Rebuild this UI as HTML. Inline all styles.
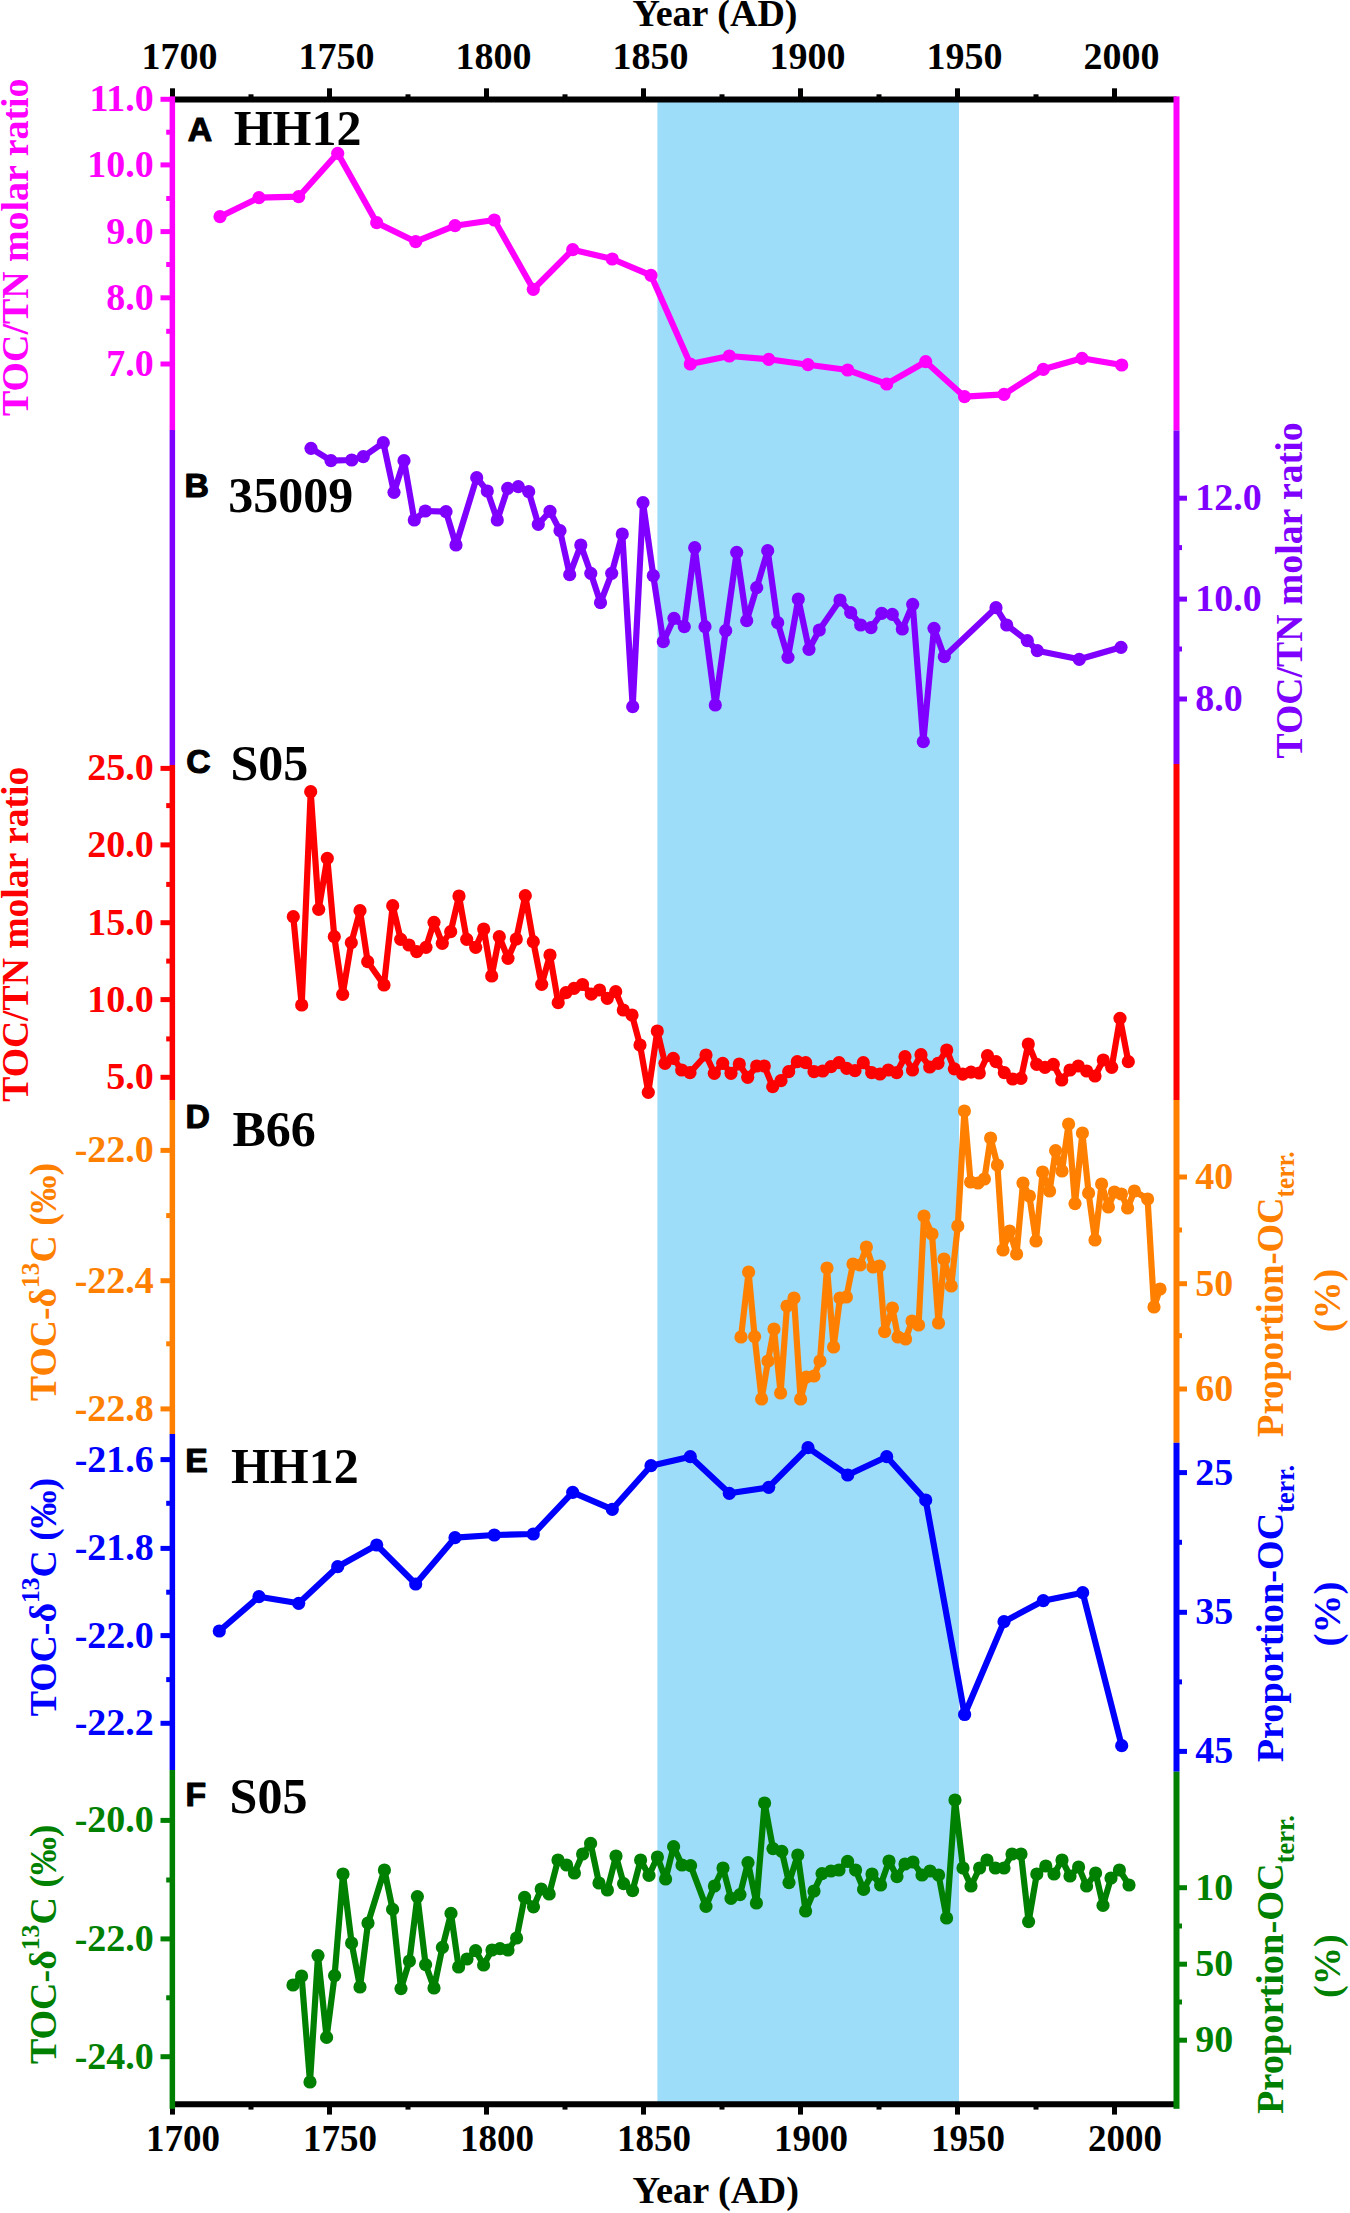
<!DOCTYPE html>
<html lang="en"><head><meta charset="utf-8"><title>Figure</title>
<style>
html,body{margin:0;padding:0;background:#fff}
body{width:1350px;height:2213px;overflow:hidden}
svg{display:block}
text{font-family:"Liberation Serif","Times New Roman",serif;font-weight:bold}
.tk text{font-size:38px}
.ti{font-size:38.5px}
.sup{font-size:26px}
.sub{font-size:26.5px}
.pl{font-family:"Liberation Sans",Arial,sans-serif;font-weight:bold;font-size:33.8px;stroke:#000;stroke-width:1.1px;stroke-linejoin:round}
.sl{font-size:50px}
</style></head><body>
<svg width="1350" height="2213" viewBox="0 0 1350 2213">
<rect width="1350" height="2213" fill="#fff"/>
<rect x="657.4" y="99.4" width="301.6" height="2004.8" fill="#9EDDFA"/>
<polyline fill="none" stroke="#FF00FF" stroke-width="6.2" stroke-linejoin="round" stroke-linecap="round" points="220.0,216.7 259.0,197.7 298.7,196.7 337.7,153.3 376.7,222.7 415.7,241.7 455.0,225.7 494.3,220.0 533.3,289.3 572.7,249.7 612.3,259.0 651.0,275.3 690.3,364.0 729.3,356.0 768.7,359.3 808.0,364.7 847.7,370.0 886.7,384.0 925.7,361.7 964.5,396.7 1004.0,394.3 1043.3,369.3 1082.0,358.3 1121.7,365.0"/>
<g fill="#FF00FF"><circle cx="220.0" cy="216.7" r="6.6"/><circle cx="259.0" cy="197.7" r="6.6"/><circle cx="298.7" cy="196.7" r="6.6"/><circle cx="337.7" cy="153.3" r="6.6"/><circle cx="376.7" cy="222.7" r="6.6"/><circle cx="415.7" cy="241.7" r="6.6"/><circle cx="455.0" cy="225.7" r="6.6"/><circle cx="494.3" cy="220.0" r="6.6"/><circle cx="533.3" cy="289.3" r="6.6"/><circle cx="572.7" cy="249.7" r="6.6"/><circle cx="612.3" cy="259.0" r="6.6"/><circle cx="651.0" cy="275.3" r="6.6"/><circle cx="690.3" cy="364.0" r="6.6"/><circle cx="729.3" cy="356.0" r="6.6"/><circle cx="768.7" cy="359.3" r="6.6"/><circle cx="808.0" cy="364.7" r="6.6"/><circle cx="847.7" cy="370.0" r="6.6"/><circle cx="886.7" cy="384.0" r="6.6"/><circle cx="925.7" cy="361.7" r="6.6"/><circle cx="964.5" cy="396.7" r="6.6"/><circle cx="1004.0" cy="394.3" r="6.6"/><circle cx="1043.3" cy="369.3" r="6.6"/><circle cx="1082.0" cy="358.3" r="6.6"/><circle cx="1121.7" cy="365.0" r="6.6"/></g>
<polyline fill="none" stroke="#8000FF" stroke-width="6.2" stroke-linejoin="round" stroke-linecap="round" points="311.0,448.3 331.0,460.7 351.7,460.0 363.3,456.7 383.3,442.7 394.0,492.3 404.0,460.7 414.3,520.0 425.3,511.0 446.0,511.7 456.0,545.0 476.7,477.7 487.3,491.0 497.3,520.0 507.7,488.3 518.3,486.7 528.7,491.7 538.3,524.3 550.0,511.3 560.0,530.7 569.7,574.7 580.8,545.0 590.8,573.3 600.5,602.7 611.7,573.3 622.3,534.0 632.7,706.7 643.0,502.7 653.3,575.7 663.3,641.7 674.0,618.3 684.3,626.7 694.7,547.7 705.0,626.7 715.3,705.0 725.7,630.7 736.7,552.3 746.7,620.7 756.7,587.7 767.7,550.7 777.7,622.7 788.0,657.3 798.3,599.0 809.0,649.3 819.3,630.0 840.0,600.0 850.7,612.7 860.7,625.0 871.0,627.7 881.7,613.3 892.3,614.3 902.3,629.0 912.7,604.3 923.3,741.7 934.0,628.3 944.3,656.7 996.0,607.7 1006.7,625.0 1027.3,640.7 1037.3,650.7 1079.3,659.3 1121.0,647.3"/>
<g fill="#8000FF"><circle cx="311.0" cy="448.3" r="6.6"/><circle cx="331.0" cy="460.7" r="6.6"/><circle cx="351.7" cy="460.0" r="6.6"/><circle cx="363.3" cy="456.7" r="6.6"/><circle cx="383.3" cy="442.7" r="6.6"/><circle cx="394.0" cy="492.3" r="6.6"/><circle cx="404.0" cy="460.7" r="6.6"/><circle cx="414.3" cy="520.0" r="6.6"/><circle cx="425.3" cy="511.0" r="6.6"/><circle cx="446.0" cy="511.7" r="6.6"/><circle cx="456.0" cy="545.0" r="6.6"/><circle cx="476.7" cy="477.7" r="6.6"/><circle cx="487.3" cy="491.0" r="6.6"/><circle cx="497.3" cy="520.0" r="6.6"/><circle cx="507.7" cy="488.3" r="6.6"/><circle cx="518.3" cy="486.7" r="6.6"/><circle cx="528.7" cy="491.7" r="6.6"/><circle cx="538.3" cy="524.3" r="6.6"/><circle cx="550.0" cy="511.3" r="6.6"/><circle cx="560.0" cy="530.7" r="6.6"/><circle cx="569.7" cy="574.7" r="6.6"/><circle cx="580.8" cy="545.0" r="6.6"/><circle cx="590.8" cy="573.3" r="6.6"/><circle cx="600.5" cy="602.7" r="6.6"/><circle cx="611.7" cy="573.3" r="6.6"/><circle cx="622.3" cy="534.0" r="6.6"/><circle cx="632.7" cy="706.7" r="6.6"/><circle cx="643.0" cy="502.7" r="6.6"/><circle cx="653.3" cy="575.7" r="6.6"/><circle cx="663.3" cy="641.7" r="6.6"/><circle cx="674.0" cy="618.3" r="6.6"/><circle cx="684.3" cy="626.7" r="6.6"/><circle cx="694.7" cy="547.7" r="6.6"/><circle cx="705.0" cy="626.7" r="6.6"/><circle cx="715.3" cy="705.0" r="6.6"/><circle cx="725.7" cy="630.7" r="6.6"/><circle cx="736.7" cy="552.3" r="6.6"/><circle cx="746.7" cy="620.7" r="6.6"/><circle cx="756.7" cy="587.7" r="6.6"/><circle cx="767.7" cy="550.7" r="6.6"/><circle cx="777.7" cy="622.7" r="6.6"/><circle cx="788.0" cy="657.3" r="6.6"/><circle cx="798.3" cy="599.0" r="6.6"/><circle cx="809.0" cy="649.3" r="6.6"/><circle cx="819.3" cy="630.0" r="6.6"/><circle cx="840.0" cy="600.0" r="6.6"/><circle cx="850.7" cy="612.7" r="6.6"/><circle cx="860.7" cy="625.0" r="6.6"/><circle cx="871.0" cy="627.7" r="6.6"/><circle cx="881.7" cy="613.3" r="6.6"/><circle cx="892.3" cy="614.3" r="6.6"/><circle cx="902.3" cy="629.0" r="6.6"/><circle cx="912.7" cy="604.3" r="6.6"/><circle cx="923.3" cy="741.7" r="6.6"/><circle cx="934.0" cy="628.3" r="6.6"/><circle cx="944.3" cy="656.7" r="6.6"/><circle cx="996.0" cy="607.7" r="6.6"/><circle cx="1006.7" cy="625.0" r="6.6"/><circle cx="1027.3" cy="640.7" r="6.6"/><circle cx="1037.3" cy="650.7" r="6.6"/><circle cx="1079.3" cy="659.3" r="6.6"/><circle cx="1121.0" cy="647.3" r="6.6"/></g>
<polyline fill="none" stroke="#FF0000" stroke-width="6.2" stroke-linejoin="round" stroke-linecap="round" points="293.3,916.7 301.7,1005.0 310.7,791.7 318.7,909.3 327.3,858.3 334.3,936.7 342.7,994.3 351.3,942.7 360.0,910.7 367.7,961.7 384.0,985.0 392.7,905.7 400.7,939.3 409.0,945.0 416.7,951.7 426.0,947.3 434.0,922.3 442.3,943.3 450.7,931.7 459.0,896.0 466.7,939.3 475.7,947.3 483.7,929.0 491.7,976.0 499.3,936.7 508.0,958.3 516.3,939.0 525.3,895.7 533.3,941.7 541.7,984.3 550.0,955.0 558.2,1002.7 566.0,992.7 574.0,988.3 582.5,984.5 591.3,994.2 599.6,990.0 607.3,998.3 615.7,991.7 623.3,1010.0 632.0,1015.0 640.0,1045.0 648.3,1092.3 657.3,1031.0 665.0,1063.3 673.3,1058.3 681.7,1070.0 690.0,1072.7 706.0,1055.0 714.3,1073.3 722.7,1063.3 731.0,1073.3 739.3,1064.0 747.7,1077.3 756.7,1066.0 764.3,1066.0 772.7,1086.7 781.0,1080.7 788.7,1071.7 797.3,1061.7 805.7,1062.7 814.0,1071.7 822.7,1071.0 831.0,1066.7 839.0,1062.7 846.7,1068.3 855.0,1070.7 863.3,1062.7 871.7,1072.7 880.0,1074.0 888.3,1070.0 896.7,1072.7 905.0,1056.7 912.5,1070.0 921.0,1054.7 929.7,1067.0 938.0,1063.3 946.7,1050.0 954.3,1068.8 962.7,1074.2 971.0,1072.2 979.3,1073.0 987.5,1055.7 996.0,1061.7 1004.3,1072.7 1012.7,1079.0 1021.0,1078.3 1028.3,1044.0 1036.7,1064.3 1045.0,1067.3 1053.3,1064.3 1061.7,1080.0 1070.0,1070.0 1078.3,1066.0 1086.7,1071.0 1095.0,1076.0 1103.3,1060.0 1111.7,1067.3 1120.0,1018.3 1128.3,1061.7"/>
<g fill="#FF0000"><circle cx="293.3" cy="916.7" r="6.6"/><circle cx="301.7" cy="1005.0" r="6.6"/><circle cx="310.7" cy="791.7" r="6.6"/><circle cx="318.7" cy="909.3" r="6.6"/><circle cx="327.3" cy="858.3" r="6.6"/><circle cx="334.3" cy="936.7" r="6.6"/><circle cx="342.7" cy="994.3" r="6.6"/><circle cx="351.3" cy="942.7" r="6.6"/><circle cx="360.0" cy="910.7" r="6.6"/><circle cx="367.7" cy="961.7" r="6.6"/><circle cx="384.0" cy="985.0" r="6.6"/><circle cx="392.7" cy="905.7" r="6.6"/><circle cx="400.7" cy="939.3" r="6.6"/><circle cx="409.0" cy="945.0" r="6.6"/><circle cx="416.7" cy="951.7" r="6.6"/><circle cx="426.0" cy="947.3" r="6.6"/><circle cx="434.0" cy="922.3" r="6.6"/><circle cx="442.3" cy="943.3" r="6.6"/><circle cx="450.7" cy="931.7" r="6.6"/><circle cx="459.0" cy="896.0" r="6.6"/><circle cx="466.7" cy="939.3" r="6.6"/><circle cx="475.7" cy="947.3" r="6.6"/><circle cx="483.7" cy="929.0" r="6.6"/><circle cx="491.7" cy="976.0" r="6.6"/><circle cx="499.3" cy="936.7" r="6.6"/><circle cx="508.0" cy="958.3" r="6.6"/><circle cx="516.3" cy="939.0" r="6.6"/><circle cx="525.3" cy="895.7" r="6.6"/><circle cx="533.3" cy="941.7" r="6.6"/><circle cx="541.7" cy="984.3" r="6.6"/><circle cx="550.0" cy="955.0" r="6.6"/><circle cx="558.2" cy="1002.7" r="6.6"/><circle cx="566.0" cy="992.7" r="6.6"/><circle cx="574.0" cy="988.3" r="6.6"/><circle cx="582.5" cy="984.5" r="6.6"/><circle cx="591.3" cy="994.2" r="6.6"/><circle cx="599.6" cy="990.0" r="6.6"/><circle cx="607.3" cy="998.3" r="6.6"/><circle cx="615.7" cy="991.7" r="6.6"/><circle cx="623.3" cy="1010.0" r="6.6"/><circle cx="632.0" cy="1015.0" r="6.6"/><circle cx="640.0" cy="1045.0" r="6.6"/><circle cx="648.3" cy="1092.3" r="6.6"/><circle cx="657.3" cy="1031.0" r="6.6"/><circle cx="665.0" cy="1063.3" r="6.6"/><circle cx="673.3" cy="1058.3" r="6.6"/><circle cx="681.7" cy="1070.0" r="6.6"/><circle cx="690.0" cy="1072.7" r="6.6"/><circle cx="706.0" cy="1055.0" r="6.6"/><circle cx="714.3" cy="1073.3" r="6.6"/><circle cx="722.7" cy="1063.3" r="6.6"/><circle cx="731.0" cy="1073.3" r="6.6"/><circle cx="739.3" cy="1064.0" r="6.6"/><circle cx="747.7" cy="1077.3" r="6.6"/><circle cx="756.7" cy="1066.0" r="6.6"/><circle cx="764.3" cy="1066.0" r="6.6"/><circle cx="772.7" cy="1086.7" r="6.6"/><circle cx="781.0" cy="1080.7" r="6.6"/><circle cx="788.7" cy="1071.7" r="6.6"/><circle cx="797.3" cy="1061.7" r="6.6"/><circle cx="805.7" cy="1062.7" r="6.6"/><circle cx="814.0" cy="1071.7" r="6.6"/><circle cx="822.7" cy="1071.0" r="6.6"/><circle cx="831.0" cy="1066.7" r="6.6"/><circle cx="839.0" cy="1062.7" r="6.6"/><circle cx="846.7" cy="1068.3" r="6.6"/><circle cx="855.0" cy="1070.7" r="6.6"/><circle cx="863.3" cy="1062.7" r="6.6"/><circle cx="871.7" cy="1072.7" r="6.6"/><circle cx="880.0" cy="1074.0" r="6.6"/><circle cx="888.3" cy="1070.0" r="6.6"/><circle cx="896.7" cy="1072.7" r="6.6"/><circle cx="905.0" cy="1056.7" r="6.6"/><circle cx="912.5" cy="1070.0" r="6.6"/><circle cx="921.0" cy="1054.7" r="6.6"/><circle cx="929.7" cy="1067.0" r="6.6"/><circle cx="938.0" cy="1063.3" r="6.6"/><circle cx="946.7" cy="1050.0" r="6.6"/><circle cx="954.3" cy="1068.8" r="6.6"/><circle cx="962.7" cy="1074.2" r="6.6"/><circle cx="971.0" cy="1072.2" r="6.6"/><circle cx="979.3" cy="1073.0" r="6.6"/><circle cx="987.5" cy="1055.7" r="6.6"/><circle cx="996.0" cy="1061.7" r="6.6"/><circle cx="1004.3" cy="1072.7" r="6.6"/><circle cx="1012.7" cy="1079.0" r="6.6"/><circle cx="1021.0" cy="1078.3" r="6.6"/><circle cx="1028.3" cy="1044.0" r="6.6"/><circle cx="1036.7" cy="1064.3" r="6.6"/><circle cx="1045.0" cy="1067.3" r="6.6"/><circle cx="1053.3" cy="1064.3" r="6.6"/><circle cx="1061.7" cy="1080.0" r="6.6"/><circle cx="1070.0" cy="1070.0" r="6.6"/><circle cx="1078.3" cy="1066.0" r="6.6"/><circle cx="1086.7" cy="1071.0" r="6.6"/><circle cx="1095.0" cy="1076.0" r="6.6"/><circle cx="1103.3" cy="1060.0" r="6.6"/><circle cx="1111.7" cy="1067.3" r="6.6"/><circle cx="1120.0" cy="1018.3" r="6.6"/><circle cx="1128.3" cy="1061.7" r="6.6"/></g>
<polyline fill="none" stroke="#FF8000" stroke-width="6.2" stroke-linejoin="round" stroke-linecap="round" points="741.0,1337.0 748.6,1272.0 754.6,1336.6 761.6,1399.0 768.0,1361.0 774.0,1329.0 780.6,1393.0 787.0,1306.0 794.0,1298.0 800.6,1399.0 806.4,1377.0 814.0,1376.0 820.0,1361.0 827.0,1268.0 833.6,1347.0 840.0,1298.0 846.4,1297.0 853.0,1264.0 860.0,1265.0 866.4,1247.0 873.0,1267.0 879.4,1266.0 884.6,1331.6 892.4,1308.0 898.0,1337.0 905.6,1339.0 912.0,1321.0 918.6,1325.0 924.0,1216.0 932.0,1234.0 938.5,1323.0 944.0,1259.0 951.2,1286.0 957.8,1226.0 964.4,1111.0 970.6,1182.0 978.0,1183.0 984.4,1179.0 990.6,1138.0 997.4,1165.0 1003.0,1250.0 1009.6,1231.0 1016.6,1254.0 1023.0,1183.0 1029.4,1196.0 1036.0,1241.0 1042.6,1172.0 1049.6,1191.0 1055.6,1150.6 1062.0,1171.0 1068.6,1124.0 1075.0,1203.6 1082.4,1133.0 1088.6,1193.0 1095.0,1240.0 1101.6,1184.0 1108.4,1207.0 1114.4,1192.0 1121.4,1194.0 1127.6,1208.0 1134.4,1191.0 1147.6,1199.0 1154.0,1307.0 1160.0,1289.0"/>
<g fill="#FF8000"><circle cx="741.0" cy="1337.0" r="6.6"/><circle cx="748.6" cy="1272.0" r="6.6"/><circle cx="754.6" cy="1336.6" r="6.6"/><circle cx="761.6" cy="1399.0" r="6.6"/><circle cx="768.0" cy="1361.0" r="6.6"/><circle cx="774.0" cy="1329.0" r="6.6"/><circle cx="780.6" cy="1393.0" r="6.6"/><circle cx="787.0" cy="1306.0" r="6.6"/><circle cx="794.0" cy="1298.0" r="6.6"/><circle cx="800.6" cy="1399.0" r="6.6"/><circle cx="806.4" cy="1377.0" r="6.6"/><circle cx="814.0" cy="1376.0" r="6.6"/><circle cx="820.0" cy="1361.0" r="6.6"/><circle cx="827.0" cy="1268.0" r="6.6"/><circle cx="833.6" cy="1347.0" r="6.6"/><circle cx="840.0" cy="1298.0" r="6.6"/><circle cx="846.4" cy="1297.0" r="6.6"/><circle cx="853.0" cy="1264.0" r="6.6"/><circle cx="860.0" cy="1265.0" r="6.6"/><circle cx="866.4" cy="1247.0" r="6.6"/><circle cx="873.0" cy="1267.0" r="6.6"/><circle cx="879.4" cy="1266.0" r="6.6"/><circle cx="884.6" cy="1331.6" r="6.6"/><circle cx="892.4" cy="1308.0" r="6.6"/><circle cx="898.0" cy="1337.0" r="6.6"/><circle cx="905.6" cy="1339.0" r="6.6"/><circle cx="912.0" cy="1321.0" r="6.6"/><circle cx="918.6" cy="1325.0" r="6.6"/><circle cx="924.0" cy="1216.0" r="6.6"/><circle cx="932.0" cy="1234.0" r="6.6"/><circle cx="938.5" cy="1323.0" r="6.6"/><circle cx="944.0" cy="1259.0" r="6.6"/><circle cx="951.2" cy="1286.0" r="6.6"/><circle cx="957.8" cy="1226.0" r="6.6"/><circle cx="964.4" cy="1111.0" r="6.6"/><circle cx="970.6" cy="1182.0" r="6.6"/><circle cx="978.0" cy="1183.0" r="6.6"/><circle cx="984.4" cy="1179.0" r="6.6"/><circle cx="990.6" cy="1138.0" r="6.6"/><circle cx="997.4" cy="1165.0" r="6.6"/><circle cx="1003.0" cy="1250.0" r="6.6"/><circle cx="1009.6" cy="1231.0" r="6.6"/><circle cx="1016.6" cy="1254.0" r="6.6"/><circle cx="1023.0" cy="1183.0" r="6.6"/><circle cx="1029.4" cy="1196.0" r="6.6"/><circle cx="1036.0" cy="1241.0" r="6.6"/><circle cx="1042.6" cy="1172.0" r="6.6"/><circle cx="1049.6" cy="1191.0" r="6.6"/><circle cx="1055.6" cy="1150.6" r="6.6"/><circle cx="1062.0" cy="1171.0" r="6.6"/><circle cx="1068.6" cy="1124.0" r="6.6"/><circle cx="1075.0" cy="1203.6" r="6.6"/><circle cx="1082.4" cy="1133.0" r="6.6"/><circle cx="1088.6" cy="1193.0" r="6.6"/><circle cx="1095.0" cy="1240.0" r="6.6"/><circle cx="1101.6" cy="1184.0" r="6.6"/><circle cx="1108.4" cy="1207.0" r="6.6"/><circle cx="1114.4" cy="1192.0" r="6.6"/><circle cx="1121.4" cy="1194.0" r="6.6"/><circle cx="1127.6" cy="1208.0" r="6.6"/><circle cx="1134.4" cy="1191.0" r="6.6"/><circle cx="1147.6" cy="1199.0" r="6.6"/><circle cx="1154.0" cy="1307.0" r="6.6"/><circle cx="1160.0" cy="1289.0" r="6.6"/></g>
<polyline fill="none" stroke="#0000FF" stroke-width="6.2" stroke-linejoin="round" stroke-linecap="round" points="219.3,1631.0 259.0,1596.7 298.7,1603.3 337.7,1566.7 376.7,1545.0 415.7,1584.0 455.0,1537.7 494.3,1535.0 533.3,1534.0 572.7,1492.3 612.3,1509.3 651.0,1465.7 690.3,1456.7 729.3,1493.3 768.7,1487.3 808.0,1447.7 847.7,1475.0 886.7,1456.7 925.7,1500.0 964.6,1714.5 1004.0,1621.7 1043.3,1600.7 1082.7,1592.7 1121.7,1745.7"/>
<g fill="#0000FF"><circle cx="219.3" cy="1631.0" r="6.6"/><circle cx="259.0" cy="1596.7" r="6.6"/><circle cx="298.7" cy="1603.3" r="6.6"/><circle cx="337.7" cy="1566.7" r="6.6"/><circle cx="376.7" cy="1545.0" r="6.6"/><circle cx="415.7" cy="1584.0" r="6.6"/><circle cx="455.0" cy="1537.7" r="6.6"/><circle cx="494.3" cy="1535.0" r="6.6"/><circle cx="533.3" cy="1534.0" r="6.6"/><circle cx="572.7" cy="1492.3" r="6.6"/><circle cx="612.3" cy="1509.3" r="6.6"/><circle cx="651.0" cy="1465.7" r="6.6"/><circle cx="690.3" cy="1456.7" r="6.6"/><circle cx="729.3" cy="1493.3" r="6.6"/><circle cx="768.7" cy="1487.3" r="6.6"/><circle cx="808.0" cy="1447.7" r="6.6"/><circle cx="847.7" cy="1475.0" r="6.6"/><circle cx="886.7" cy="1456.7" r="6.6"/><circle cx="925.7" cy="1500.0" r="6.6"/><circle cx="964.6" cy="1714.5" r="6.6"/><circle cx="1004.0" cy="1621.7" r="6.6"/><circle cx="1043.3" cy="1600.7" r="6.6"/><circle cx="1082.7" cy="1592.7" r="6.6"/><circle cx="1121.7" cy="1745.7" r="6.6"/></g>
<polyline fill="none" stroke="#008000" stroke-width="6.2" stroke-linejoin="round" stroke-linecap="round" points="293.0,1985.0 301.6,1976.0 310.0,2082.0 318.0,1955.6 326.6,2037.4 334.6,1975.6 343.0,1874.0 351.6,1943.0 360.0,1987.0 368.0,1923.0 384.4,1870.0 392.6,1909.4 401.0,1988.6 409.4,1961.0 417.4,1896.6 425.6,1964.6 434.0,1988.0 442.4,1947.4 451.0,1913.4 458.6,1967.0 467.0,1959.0 475.6,1950.6 483.6,1965.0 492.0,1950.0 500.0,1948.6 508.0,1950.0 516.6,1938.0 524.6,1897.4 533.5,1906.8 541.2,1889.0 549.2,1894.0 558.0,1860.0 566.6,1865.0 574.4,1873.0 582.6,1854.0 590.6,1843.4 599.0,1883.0 607.4,1890.0 616.0,1856.0 623.6,1883.6 632.6,1890.6 640.6,1860.0 649.0,1875.4 657.4,1857.0 665.6,1879.0 673.6,1846.6 682.0,1865.0 690.6,1865.6 706.0,1906.4 714.4,1886.0 723.0,1868.0 731.0,1898.4 740.0,1894.6 748.0,1862.6 756.4,1903.0 764.6,1803.0 773.0,1848.6 781.8,1851.4 789.0,1882.6 797.8,1855.0 805.6,1911.0 814.0,1891.0 822.0,1873.6 831.0,1871.0 839.0,1870.0 847.6,1861.4 855.6,1870.0 863.6,1889.4 872.0,1874.0 880.6,1885.0 889.0,1861.0 897.0,1876.6 905.0,1864.0 913.0,1862.0 922.0,1875.0 930.0,1871.0 938.6,1875.0 946.6,1918.0 955.0,1800.0 963.0,1868.0 971.0,1886.0 979.6,1868.0 987.0,1860.0 995.4,1868.0 1004.0,1868.0 1012.0,1854.0 1021.0,1854.0 1028.6,1921.6 1036.8,1874.0 1045.8,1866.0 1054.0,1874.0 1062.0,1860.0 1070.0,1876.0 1078.6,1867.0 1086.6,1886.0 1095.6,1873.0 1103.0,1905.4 1111.0,1878.0 1119.4,1870.0 1129.0,1885.0"/>
<g fill="#008000"><circle cx="293.0" cy="1985.0" r="6.6"/><circle cx="301.6" cy="1976.0" r="6.6"/><circle cx="310.0" cy="2082.0" r="6.6"/><circle cx="318.0" cy="1955.6" r="6.6"/><circle cx="326.6" cy="2037.4" r="6.6"/><circle cx="334.6" cy="1975.6" r="6.6"/><circle cx="343.0" cy="1874.0" r="6.6"/><circle cx="351.6" cy="1943.0" r="6.6"/><circle cx="360.0" cy="1987.0" r="6.6"/><circle cx="368.0" cy="1923.0" r="6.6"/><circle cx="384.4" cy="1870.0" r="6.6"/><circle cx="392.6" cy="1909.4" r="6.6"/><circle cx="401.0" cy="1988.6" r="6.6"/><circle cx="409.4" cy="1961.0" r="6.6"/><circle cx="417.4" cy="1896.6" r="6.6"/><circle cx="425.6" cy="1964.6" r="6.6"/><circle cx="434.0" cy="1988.0" r="6.6"/><circle cx="442.4" cy="1947.4" r="6.6"/><circle cx="451.0" cy="1913.4" r="6.6"/><circle cx="458.6" cy="1967.0" r="6.6"/><circle cx="467.0" cy="1959.0" r="6.6"/><circle cx="475.6" cy="1950.6" r="6.6"/><circle cx="483.6" cy="1965.0" r="6.6"/><circle cx="492.0" cy="1950.0" r="6.6"/><circle cx="500.0" cy="1948.6" r="6.6"/><circle cx="508.0" cy="1950.0" r="6.6"/><circle cx="516.6" cy="1938.0" r="6.6"/><circle cx="524.6" cy="1897.4" r="6.6"/><circle cx="533.5" cy="1906.8" r="6.6"/><circle cx="541.2" cy="1889.0" r="6.6"/><circle cx="549.2" cy="1894.0" r="6.6"/><circle cx="558.0" cy="1860.0" r="6.6"/><circle cx="566.6" cy="1865.0" r="6.6"/><circle cx="574.4" cy="1873.0" r="6.6"/><circle cx="582.6" cy="1854.0" r="6.6"/><circle cx="590.6" cy="1843.4" r="6.6"/><circle cx="599.0" cy="1883.0" r="6.6"/><circle cx="607.4" cy="1890.0" r="6.6"/><circle cx="616.0" cy="1856.0" r="6.6"/><circle cx="623.6" cy="1883.6" r="6.6"/><circle cx="632.6" cy="1890.6" r="6.6"/><circle cx="640.6" cy="1860.0" r="6.6"/><circle cx="649.0" cy="1875.4" r="6.6"/><circle cx="657.4" cy="1857.0" r="6.6"/><circle cx="665.6" cy="1879.0" r="6.6"/><circle cx="673.6" cy="1846.6" r="6.6"/><circle cx="682.0" cy="1865.0" r="6.6"/><circle cx="690.6" cy="1865.6" r="6.6"/><circle cx="706.0" cy="1906.4" r="6.6"/><circle cx="714.4" cy="1886.0" r="6.6"/><circle cx="723.0" cy="1868.0" r="6.6"/><circle cx="731.0" cy="1898.4" r="6.6"/><circle cx="740.0" cy="1894.6" r="6.6"/><circle cx="748.0" cy="1862.6" r="6.6"/><circle cx="756.4" cy="1903.0" r="6.6"/><circle cx="764.6" cy="1803.0" r="6.6"/><circle cx="773.0" cy="1848.6" r="6.6"/><circle cx="781.8" cy="1851.4" r="6.6"/><circle cx="789.0" cy="1882.6" r="6.6"/><circle cx="797.8" cy="1855.0" r="6.6"/><circle cx="805.6" cy="1911.0" r="6.6"/><circle cx="814.0" cy="1891.0" r="6.6"/><circle cx="822.0" cy="1873.6" r="6.6"/><circle cx="831.0" cy="1871.0" r="6.6"/><circle cx="839.0" cy="1870.0" r="6.6"/><circle cx="847.6" cy="1861.4" r="6.6"/><circle cx="855.6" cy="1870.0" r="6.6"/><circle cx="863.6" cy="1889.4" r="6.6"/><circle cx="872.0" cy="1874.0" r="6.6"/><circle cx="880.6" cy="1885.0" r="6.6"/><circle cx="889.0" cy="1861.0" r="6.6"/><circle cx="897.0" cy="1876.6" r="6.6"/><circle cx="905.0" cy="1864.0" r="6.6"/><circle cx="913.0" cy="1862.0" r="6.6"/><circle cx="922.0" cy="1875.0" r="6.6"/><circle cx="930.0" cy="1871.0" r="6.6"/><circle cx="938.6" cy="1875.0" r="6.6"/><circle cx="946.6" cy="1918.0" r="6.6"/><circle cx="955.0" cy="1800.0" r="6.6"/><circle cx="963.0" cy="1868.0" r="6.6"/><circle cx="971.0" cy="1886.0" r="6.6"/><circle cx="979.6" cy="1868.0" r="6.6"/><circle cx="987.0" cy="1860.0" r="6.6"/><circle cx="995.4" cy="1868.0" r="6.6"/><circle cx="1004.0" cy="1868.0" r="6.6"/><circle cx="1012.0" cy="1854.0" r="6.6"/><circle cx="1021.0" cy="1854.0" r="6.6"/><circle cx="1028.6" cy="1921.6" r="6.6"/><circle cx="1036.8" cy="1874.0" r="6.6"/><circle cx="1045.8" cy="1866.0" r="6.6"/><circle cx="1054.0" cy="1874.0" r="6.6"/><circle cx="1062.0" cy="1860.0" r="6.6"/><circle cx="1070.0" cy="1876.0" r="6.6"/><circle cx="1078.6" cy="1867.0" r="6.6"/><circle cx="1086.6" cy="1886.0" r="6.6"/><circle cx="1095.6" cy="1873.0" r="6.6"/><circle cx="1103.0" cy="1905.4" r="6.6"/><circle cx="1111.0" cy="1878.0" r="6.6"/><circle cx="1119.4" cy="1870.0" r="6.6"/><circle cx="1129.0" cy="1885.0" r="6.6"/></g>
<g stroke="#000" stroke-width="6">
<line x1="172.3" y1="99.4" x2="1176.5" y2="99.4"/>
<line x1="172.3" y1="2104.2" x2="1176.5" y2="2104.2"/>
</g>
<g stroke="#000" stroke-width="5">
<line x1="172.5" y1="88.3" x2="172.5" y2="99.4"/>
<line x1="172.5" y1="2104.2" x2="172.5" y2="2114.6"/>
<line x1="251.0" y1="94.3" x2="251.0" y2="99.4"/>
<line x1="251.0" y1="2104.2" x2="251.0" y2="2109.6"/>
<line x1="329.5" y1="88.3" x2="329.5" y2="99.4"/>
<line x1="329.5" y1="2104.2" x2="329.5" y2="2114.6"/>
<line x1="408.0" y1="94.3" x2="408.0" y2="99.4"/>
<line x1="408.0" y1="2104.2" x2="408.0" y2="2109.6"/>
<line x1="486.5" y1="88.3" x2="486.5" y2="99.4"/>
<line x1="486.5" y1="2104.2" x2="486.5" y2="2114.6"/>
<line x1="565.0" y1="94.3" x2="565.0" y2="99.4"/>
<line x1="565.0" y1="2104.2" x2="565.0" y2="2109.6"/>
<line x1="643.5" y1="88.3" x2="643.5" y2="99.4"/>
<line x1="643.5" y1="2104.2" x2="643.5" y2="2114.6"/>
<line x1="722.0" y1="94.3" x2="722.0" y2="99.4"/>
<line x1="722.0" y1="2104.2" x2="722.0" y2="2109.6"/>
<line x1="800.5" y1="88.3" x2="800.5" y2="99.4"/>
<line x1="800.5" y1="2104.2" x2="800.5" y2="2114.6"/>
<line x1="879.0" y1="94.3" x2="879.0" y2="99.4"/>
<line x1="879.0" y1="2104.2" x2="879.0" y2="2109.6"/>
<line x1="957.5" y1="88.3" x2="957.5" y2="99.4"/>
<line x1="957.5" y1="2104.2" x2="957.5" y2="2114.6"/>
<line x1="1036.0" y1="94.3" x2="1036.0" y2="99.4"/>
<line x1="1036.0" y1="2104.2" x2="1036.0" y2="2109.6"/>
<line x1="1114.5" y1="88.3" x2="1114.5" y2="99.4"/>
<line x1="1114.5" y1="2104.2" x2="1114.5" y2="2114.6"/>
</g>
<rect x="169.6" y="96.4" width="5.5" height="333.6" fill="#FF00FF"/>
<rect x="169.6" y="430.0" width="5.5" height="335.0" fill="#8000FF"/>
<rect x="169.6" y="765.0" width="5.5" height="335.0" fill="#FF0000"/>
<rect x="169.6" y="1100.0" width="5.5" height="334.0" fill="#FF8000"/>
<rect x="169.6" y="1434.0" width="5.5" height="336.0" fill="#0000FF"/>
<rect x="169.6" y="1770.0" width="5.5" height="338.8" fill="#008000"/>
<rect x="1173.5" y="96.4" width="6.0" height="334.1" fill="#FF00FF"/>
<rect x="1173.5" y="430.5" width="6.0" height="333.5" fill="#8000FF"/>
<rect x="1173.5" y="764.0" width="6.0" height="336.0" fill="#FF0000"/>
<rect x="1173.5" y="1100.0" width="6.0" height="342.8" fill="#FF8000"/>
<rect x="1173.5" y="1442.8" width="6.0" height="328.9" fill="#0000FF"/>
<rect x="1173.5" y="1771.7" width="6.0" height="337.1" fill="#008000"/>
<g stroke="#FF00FF" stroke-width="5">
<line x1="160.5" y1="99.3" x2="172.3" y2="99.3"/>
<line x1="160.5" y1="164.9" x2="172.3" y2="164.9"/>
<line x1="160.5" y1="231.6" x2="172.3" y2="231.6"/>
<line x1="160.5" y1="297.8" x2="172.3" y2="297.8"/>
<line x1="160.5" y1="364.0" x2="172.3" y2="364.0"/>
<line x1="166.2" y1="132.2" x2="172.3" y2="132.2"/>
<line x1="166.2" y1="198.5" x2="172.3" y2="198.5"/>
<line x1="166.2" y1="264.5" x2="172.3" y2="264.5"/>
<line x1="166.2" y1="331.3" x2="172.3" y2="331.3"/>
</g>
<g fill="#FF00FF" text-anchor="end" class="tk">
<text x="153.8" y="111.3">11.0</text>
<text x="153.8" y="176.9">10.0</text>
<text x="153.8" y="243.6">9.0</text>
<text x="153.8" y="309.8">8.0</text>
<text x="153.8" y="376.0">7.0</text>
</g>
<g stroke="#FF0000" stroke-width="5">
<line x1="160.5" y1="768.4" x2="172.3" y2="768.4"/>
<line x1="160.5" y1="844.9" x2="172.3" y2="844.9"/>
<line x1="160.5" y1="922.7" x2="172.3" y2="922.7"/>
<line x1="160.5" y1="999.6" x2="172.3" y2="999.6"/>
<line x1="160.5" y1="1077.3" x2="172.3" y2="1077.3"/>
<line x1="166.2" y1="805.6" x2="172.3" y2="805.6"/>
<line x1="166.2" y1="884.4" x2="172.3" y2="884.4"/>
<line x1="166.2" y1="961.1" x2="172.3" y2="961.1"/>
<line x1="166.2" y1="1038.9" x2="172.3" y2="1038.9"/>
</g>
<g fill="#FF0000" text-anchor="end" class="tk">
<text x="153.8" y="780.4">25.0</text>
<text x="153.8" y="856.9">20.0</text>
<text x="153.8" y="934.7">15.0</text>
<text x="153.8" y="1011.6">10.0</text>
<text x="153.8" y="1089.3">5.0</text>
</g>
<g stroke="#FF8000" stroke-width="5">
<line x1="160.5" y1="1150.4" x2="172.3" y2="1150.4"/>
<line x1="160.5" y1="1280.7" x2="172.3" y2="1280.7"/>
<line x1="160.5" y1="1408.9" x2="172.3" y2="1408.9"/>
<line x1="166.2" y1="1215.6" x2="172.3" y2="1215.6"/>
<line x1="166.2" y1="1343.8" x2="172.3" y2="1343.8"/>
</g>
<g fill="#FF8000" text-anchor="end" class="tk">
<text x="153.8" y="1162.4">-22.0</text>
<text x="153.8" y="1292.7">-22.4</text>
<text x="153.8" y="1420.9">-22.8</text>
</g>
<g stroke="#0000FF" stroke-width="5">
<line x1="160.5" y1="1459.6" x2="172.3" y2="1459.6"/>
<line x1="160.5" y1="1548.4" x2="172.3" y2="1548.4"/>
<line x1="160.5" y1="1635.6" x2="172.3" y2="1635.6"/>
<line x1="160.5" y1="1723.3" x2="172.3" y2="1723.3"/>
<line x1="166.2" y1="1503.3" x2="172.3" y2="1503.3"/>
<line x1="166.2" y1="1592.2" x2="172.3" y2="1592.2"/>
<line x1="166.2" y1="1679.6" x2="172.3" y2="1679.6"/>
</g>
<g fill="#0000FF" text-anchor="end" class="tk">
<text x="153.8" y="1471.6">-21.6</text>
<text x="153.8" y="1560.4">-21.8</text>
<text x="153.8" y="1647.6">-22.0</text>
<text x="153.8" y="1735.3">-22.2</text>
</g>
<g stroke="#008000" stroke-width="5">
<line x1="160.5" y1="1820.4" x2="172.3" y2="1820.4"/>
<line x1="160.5" y1="1938.9" x2="172.3" y2="1938.9"/>
<line x1="160.5" y1="2056.7" x2="172.3" y2="2056.7"/>
<line x1="166.2" y1="1880.0" x2="172.3" y2="1880.0"/>
<line x1="166.2" y1="1997.8" x2="172.3" y2="1997.8"/>
</g>
<g fill="#008000" text-anchor="end" class="tk">
<text x="153.8" y="1832.4">-20.0</text>
<text x="153.8" y="1950.9">-22.0</text>
<text x="153.8" y="2068.7">-24.0</text>
</g>
<g stroke="#8000FF" stroke-width="5">
<line x1="1176.5" y1="498.2" x2="1187" y2="498.2"/>
<line x1="1176.5" y1="599.1" x2="1187" y2="599.1"/>
<line x1="1176.5" y1="699.0" x2="1187" y2="699.0"/>
<line x1="1176.5" y1="547.6" x2="1182" y2="547.6"/>
<line x1="1176.5" y1="649.0" x2="1182" y2="649.0"/>
</g>
<g fill="#8000FF" class="tk">
<text x="1195.3" y="510.2">12.0</text>
<text x="1195.3" y="611.1">10.0</text>
<text x="1195.3" y="711.0">8.0</text>
</g>
<g stroke="#FF8000" stroke-width="5">
<line x1="1176.5" y1="1177.0" x2="1187" y2="1177.0"/>
<line x1="1176.5" y1="1283.7" x2="1187" y2="1283.7"/>
<line x1="1176.5" y1="1389.0" x2="1187" y2="1389.0"/>
<line x1="1176.5" y1="1230.0" x2="1182" y2="1230.0"/>
<line x1="1176.5" y1="1335.7" x2="1182" y2="1335.7"/>
</g>
<g fill="#FF8000" class="tk">
<text x="1195.3" y="1189.0">40</text>
<text x="1195.3" y="1295.7">50</text>
<text x="1195.3" y="1401.0">60</text>
</g>
<g stroke="#0000FF" stroke-width="5">
<line x1="1176.5" y1="1472.6" x2="1187" y2="1472.6"/>
<line x1="1176.5" y1="1612.3" x2="1187" y2="1612.3"/>
<line x1="1176.5" y1="1751.4" x2="1187" y2="1751.4"/>
<line x1="1176.5" y1="1542.3" x2="1182" y2="1542.3"/>
<line x1="1176.5" y1="1681.9" x2="1182" y2="1681.9"/>
</g>
<g fill="#0000FF" class="tk">
<text x="1195.3" y="1484.6">25</text>
<text x="1195.3" y="1624.3">35</text>
<text x="1195.3" y="1763.4">45</text>
</g>
<g stroke="#008000" stroke-width="5">
<line x1="1176.5" y1="1887.7" x2="1187" y2="1887.7"/>
<line x1="1176.5" y1="1964.2" x2="1187" y2="1964.2"/>
<line x1="1176.5" y1="2040.2" x2="1187" y2="2040.2"/>
<line x1="1176.5" y1="1926.0" x2="1182" y2="1926.0"/>
<line x1="1176.5" y1="2002.0" x2="1182" y2="2002.0"/>
</g>
<g fill="#008000" class="tk">
<text x="1195.3" y="1899.7">10</text>
<text x="1195.3" y="1976.2">50</text>
<text x="1195.3" y="2052.2">90</text>
</g>
<g fill="#000" text-anchor="middle" class="tk">
<text x="179.5" y="69">1700</text>
<text x="183.0" y="2151.3" style="font-size:37px">1700</text>
<text x="336.5" y="69">1750</text>
<text x="340.0" y="2151.3" style="font-size:37px">1750</text>
<text x="493.5" y="69">1800</text>
<text x="497.0" y="2151.3" style="font-size:37px">1800</text>
<text x="650.5" y="69">1850</text>
<text x="654.0" y="2151.3" style="font-size:37px">1850</text>
<text x="807.5" y="69">1900</text>
<text x="811.0" y="2151.3" style="font-size:37px">1900</text>
<text x="964.5" y="69">1950</text>
<text x="968.0" y="2151.3" style="font-size:37px">1950</text>
<text x="1121.5" y="69">2000</text>
<text x="1125.0" y="2151.3" style="font-size:37px">2000</text>
</g>
<text class="ti" x="632.5" y="26" textLength="165" lengthAdjust="spacingAndGlyphs">Year (AD)</text>
<text class="ti" x="632.5" y="2203" textLength="166.5" lengthAdjust="spacingAndGlyphs">Year (AD)</text>
<text class="ti" fill="#FF00FF" transform="translate(28.2,416.0) rotate(-90)" textLength="337.5" lengthAdjust="spacingAndGlyphs">TOC/TN molar ratio</text>
<text class="ti" fill="#FF0000" transform="translate(28.2,1101.7) rotate(-90)" textLength="335.0" lengthAdjust="spacingAndGlyphs">TOC/TN molar ratio</text>
<text class="ti" fill="#8000FF" transform="translate(1302.4,758.5) rotate(-90)" textLength="336.0" lengthAdjust="spacingAndGlyphs">TOC/TN molar ratio</text>
<text class="ti" fill="#FF8000" transform="translate(55.6,1401.0) rotate(-90)" textLength="238.0" lengthAdjust="spacingAndGlyphs">TOC-δ<tspan class="sup" dy="-16.2">13</tspan><tspan dy="16.2">C (‰)</tspan></text>
<text class="ti" fill="#0000FF" transform="translate(55.6,1716.3) rotate(-90)" textLength="238.5" lengthAdjust="spacingAndGlyphs">TOC-δ<tspan class="sup" dy="-16.2">13</tspan><tspan dy="16.2">C (‰)</tspan></text>
<text class="ti" fill="#008000" transform="translate(55.6,2064.0) rotate(-90)" textLength="239.5" lengthAdjust="spacingAndGlyphs">TOC-δ<tspan class="sup" dy="-16.2">13</tspan><tspan dy="16.2">C (‰)</tspan></text>
<text class="ti" fill="#FF8000" transform="translate(1283.4,1437.0) rotate(-90)" textLength="285.6" lengthAdjust="spacingAndGlyphs">Proportion-OC<tspan class="sub" dy="10.3">terr.</tspan></text>
<text class="ti" fill="#0000FF" transform="translate(1283.4,1762.2) rotate(-90)" textLength="297.3" lengthAdjust="spacingAndGlyphs">Proportion-OC<tspan class="sub" dy="10.3">terr.</tspan></text>
<text class="ti" fill="#008000" transform="translate(1283.4,2114.1) rotate(-90)" textLength="299.0" lengthAdjust="spacingAndGlyphs">Proportion-OC<tspan class="sub" dy="10.3">terr.</tspan></text>
<text class="ti" fill="#FF8000" transform="translate(1339.6,1332.3) rotate(-90)" textLength="63.5" lengthAdjust="spacingAndGlyphs">(%)</text>
<text class="ti" fill="#0000FF" transform="translate(1339.6,1646.6) rotate(-90)" textLength="65.0" lengthAdjust="spacingAndGlyphs">(%)</text>
<text class="ti" fill="#008000" transform="translate(1339.6,1998.0) rotate(-90)" textLength="63.7" lengthAdjust="spacingAndGlyphs">(%)</text>
<text class="pl" x="187.8" y="141.1">A</text>
<text class="pl" x="184.5" y="497.0">B</text>
<text class="pl" x="186.3" y="772.8">C</text>
<text class="pl" x="185.5" y="1128.0">D</text>
<text class="pl" x="185.3" y="1472.0">E</text>
<text class="pl" x="185.5" y="1805.6">F</text>
<text class="sl" x="233.7" y="145.0">HH12</text>
<text class="sl" x="228.2" y="512.2">35009</text>
<text class="sl" x="230.5" y="780.0">S05</text>
<text class="sl" x="232.4" y="1145.5">B66</text>
<text class="sl" x="230.9" y="1482.5">HH12</text>
<text class="sl" x="229.6" y="1813.0">S05</text>
</svg>
</body></html>
